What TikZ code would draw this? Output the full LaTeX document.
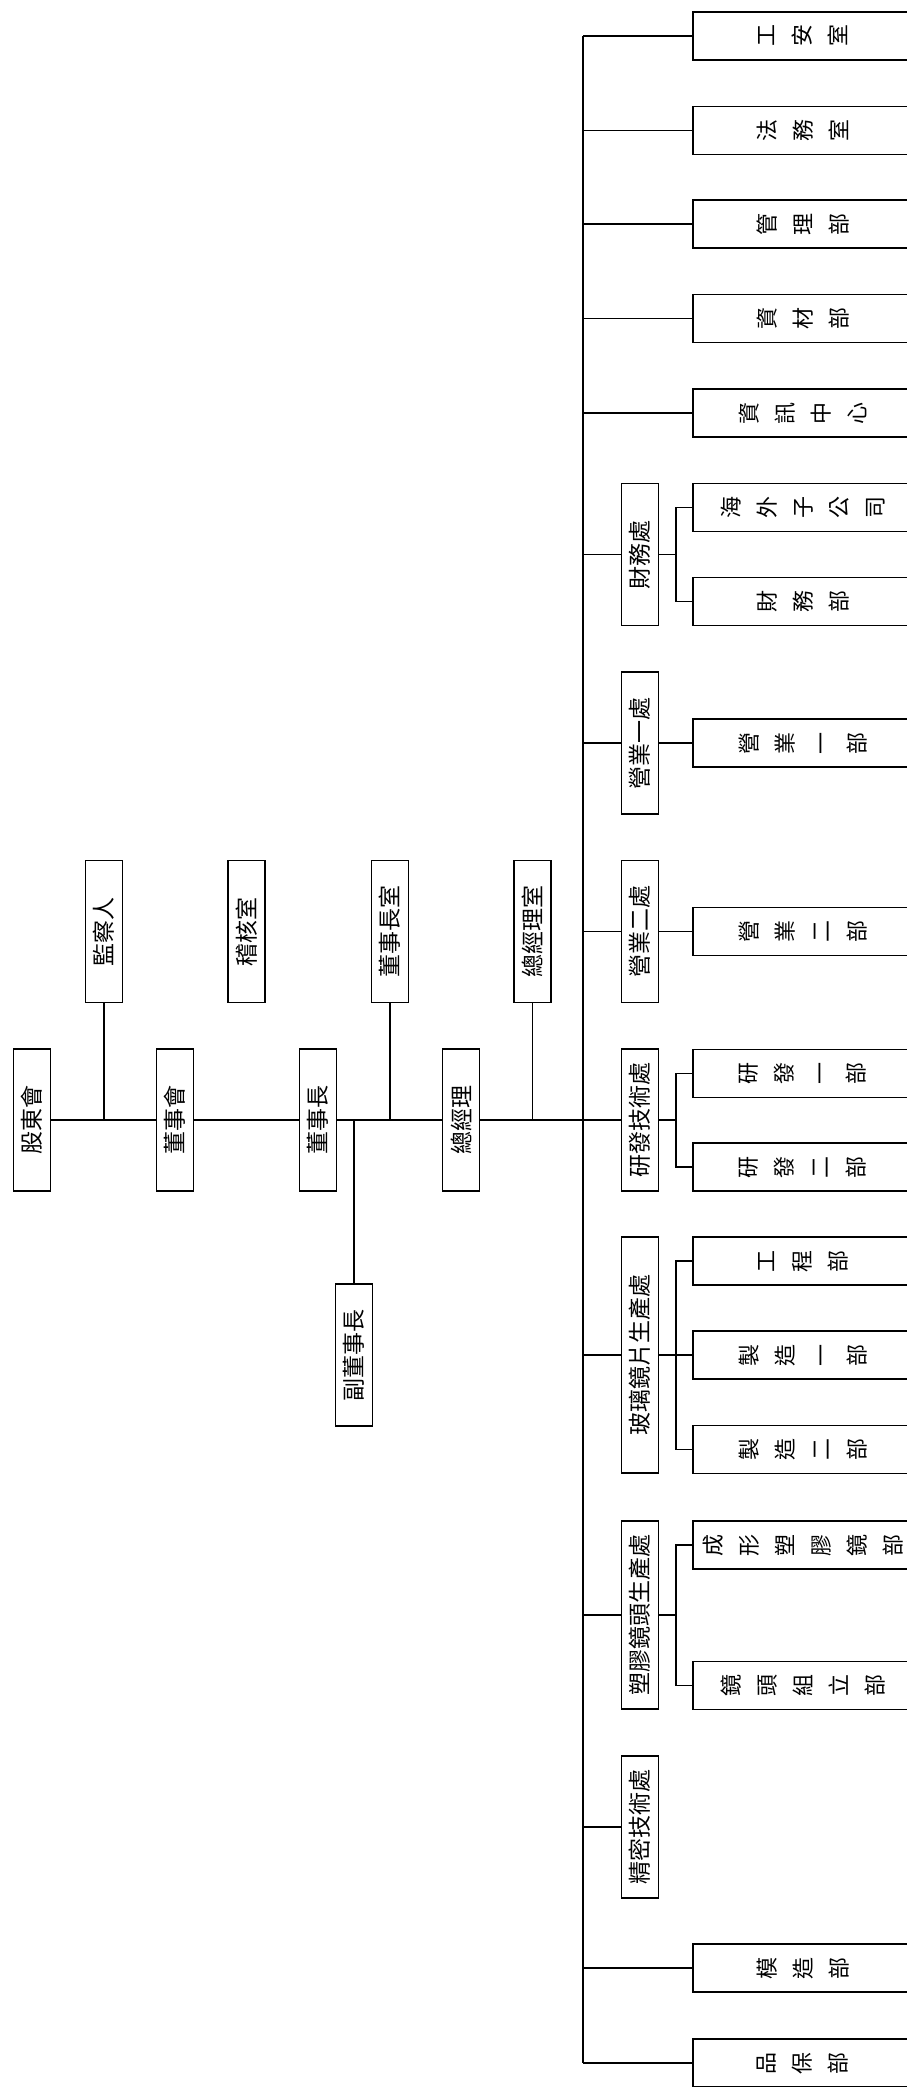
\documentclass[tikz,border=0pt]{standalone}
\usepackage{fontspec}
\newfontfamily\cjk{Noto Sans CJK TC}

\begin{document}
\begin{tikzpicture}[x=1pt,y=-1pt,
  unit/.style={draw,line width=1.8pt,rotate=90,inner sep=0pt,minimum width=142pt,minimum height=37pt,font=\cjk\fontsize{23}{23}\selectfont},
  dept/.style={draw,line width=1.8pt,rotate=90,inner sep=0pt,minimum width=48pt,minimum height=220pt,align=center,font=\cjk\fontsize{22}{36}\selectfont},
  link/.style={line width=1.8pt}]
  \useasboundingbox (0,0) rectangle (907,2087);
  \fill[white] (0,0) rectangle (907,2087);
  \clip (0,0) rectangle (907,2087);

  % top levels
  \node[unit] (gdh) at (32,1120) {股東會};
  \node[unit] (jcr) at (104,931.5) {監察人};
  \node[unit] (dsh) at (175,1120) {董事會};
  \node[unit] (jhs) at (246.5,931.5) {稽核室};
  \node[unit] (dsz) at (318,1120) {董事長};
  \node[unit] (fdsz) at (354,1355) {副董事長};
  \node[unit] (dszs) at (390,931.5) {董事長室};
  \node[unit] (zjl) at (461,1120) {總經理};
  \node[unit] (zjls) at (532.5,931.5) {總經理室};

  % divisions
  \node[unit] (cwc) at (640,554.5) {財務處};
  \node[unit] (yy1) at (640,743) {營業一處};
  \node[unit] (yy2) at (640,931.5) {營業二處};
  \node[unit] (yfc) at (640,1120) {研發技術處};
  \node[unit,minimum width=236pt] (blc) at (640,1355) {玻璃鏡片生產處};
  \node[unit,minimum width=188pt] (sjc) at (640,1615) {塑膠鏡頭生產處};
  \node[unit] (jmc) at (640,1827) {精密技術處};

  % departments
  \node[dept] (gas) at (803,36) {工\\安\\室};
  \node[dept] (fws) at (803,130.5) {法\\務\\室};
  \node[dept] (glb) at (803,224) {管\\理\\部};
  \node[dept] (zcb) at (803,318.5) {資\\材\\部};
  \node[dept] (zxzx) at (803,413) {資\\訊\\中\\心};
  \node[dept] (hwz) at (803,507.5) {海\\外\\子\\公\\司};
  \node[dept] (cwb) at (803,601.5) {財\\務\\部};
  \node[dept] (yyb1) at (803,743) {營\\業\\一\\部};
  \node[dept] (yyb2) at (803,931.5) {營\\業\\二\\部};
  \node[dept] (yfb1) at (803,1073.5) {研\\發\\一\\部};
  \node[dept] (yfb2) at (803,1167) {研\\發\\二\\部};
  \node[dept] (gcb) at (803,1261) {工\\程\\部};
  \node[dept] (zz1) at (803,1355) {製\\造\\一\\部};
  \node[dept] (zz2) at (803,1449.5) {製\\造\\二\\部};
  \node[dept] (cxb) at (803,1545) {成\\形\\塑\\膠\\鏡\\部};
  \node[dept] (jtb) at (803,1685.5) {鏡\\頭\\組\\立\\部};
  \node[dept] (mzb) at (803,1968) {模\\造\\部};
  \node[dept] (pbb) at (803,2063) {品\\保\\部};

  \coordinate (bus) at (583,0);
  \coordinate (sub) at (676,0);

  % main line
  \draw[link] (gdh.south) -- (dsh.north);
  \draw[link] (dsh.south) -- (dsz.north);
  \draw[link] (dsz.south) -- (zjl.north);
  \draw[link] (zjl.south) -- (yfc.north);
  \draw[link] (jcr.west) -- (jcr.west |- gdh.center);
  \draw[link] (dszs.west) -- (dszs.west |- dsz.center);
  \draw[link] (fdsz.east) -- (fdsz.east |- dsz.center);
  \draw[link] (zjls.west) -- (zjls.west |- zjl.center);

  % bus
  \draw[link] (bus |- gas.center) -- (bus |- pbb.center);
  \draw[link] (bus |- gas.center) -- (gas.north) (bus |- fws.center) -- (fws.north)
    (bus |- glb.center) -- (glb.north) (bus |- zcb.center) -- (zcb.north)
    (bus |- zxzx.center) -- (zxzx.north) (bus |- cwc.center) -- (cwc.north)
    (bus |- yy1.center) -- (yy1.north) (bus |- yy2.center) -- (yy2.north)
    (bus |- blc.center) -- (blc.north) (bus |- sjc.center) -- (sjc.north)
    (bus |- jmc.center) -- (jmc.north) (bus |- mzb.center) -- (mzb.north)
    (bus |- pbb.center) -- (pbb.north);

  % sub groups
  \draw[link] (cwc.south) -- (sub |- cwc.center);
  \draw[link] (hwz.north) -- (sub |- hwz.center) -- (sub |- cwb.center) -- (cwb.north);
  \draw[link] (yy1.south) -- (yyb1.north);
  \draw[link] (yy2.south) -- (yyb2.north);
  \draw[link] (yfc.south) -- (sub |- yfc.center);
  \draw[link] (yfb1.north) -- (sub |- yfb1.center) -- (sub |- yfb2.center) -- (yfb2.north);
  \draw[link] (blc.south) -- (zz1.north);
  \draw[link] (gcb.north) -- (sub |- gcb.center) -- (sub |- zz2.center) -- (zz2.north);
  \draw[link] (sjc.south) -- (sub |- sjc.center);
  \draw[link] (cxb.north) -- (sub |- cxb.center) -- (sub |- jtb.center) -- (jtb.north);
\end{tikzpicture}
\end{document}
